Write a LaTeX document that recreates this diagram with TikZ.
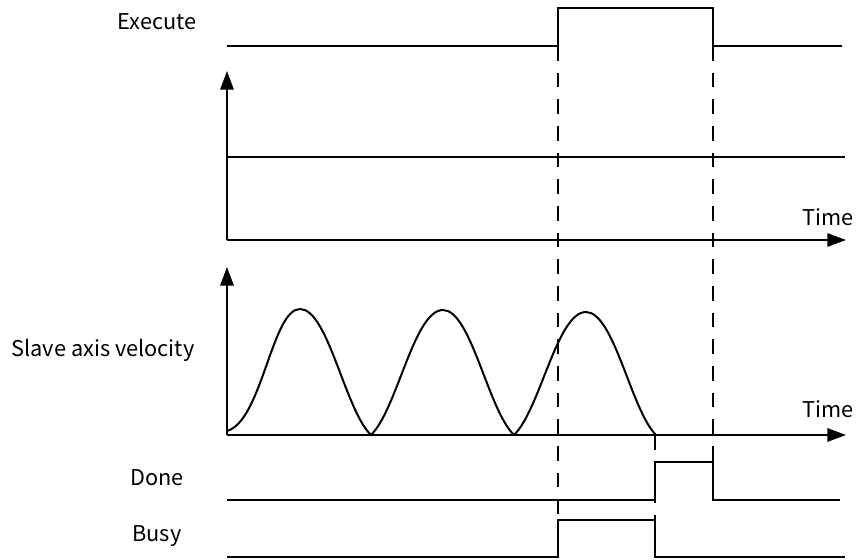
\documentclass[tikz,border=0pt]{standalone}
\usepackage{fontspec}
\setmainfont{Noto Sans CJK SC}
\usetikzlibrary{arrows.meta}
\begin{document}
\begin{tikzpicture}[x=0.75pt,y=-0.75pt,
  sig/.style={line width=1.5pt,line join=miter},
  axisline/.style={line width=1.5pt,-{Triangle[length=14pt,width=10pt]}},
  guide/.style={line width=1pt,dash pattern=on 11pt off 9pt},
  lbl/.style={font=\fontsize{16.3pt}{19pt}\selectfont,inner sep=0pt}]
\useasboundingbox (0,0) rectangle (865,560);
% labels
\node[lbl] (lexec) at (157,22) {Execute};
\node[lbl] (lslave) at (103,350) {Slave axis velocity};
\node[lbl] (ldone) at (157,478) {Done};
\node[lbl] (lbusy) at (157,536) {Busy};
\node[lbl] (ltime1) at (828,217) {Time};
\node[lbl] (ltime2) at (828,409) {Time};
% Execute signal
\draw[sig] (227,46) -- (558,46) -- (558,8) -- (713,8) -- (713,46) -- (842,46);
% master axis chart
\coordinate (o1) at (227,240);
\draw[axisline] (o1) -- (227,71);
\draw[axisline] (o1) -- (846,240);
\draw[sig] (227,157) -- (845,157);
% slave axis chart
\coordinate (o2) at (227,435);
\draw[axisline] (o2) -- (227,267);
\draw[axisline] (o2) -- (846,435);
\draw[sig] (227,431) .. controls (262,421) and (272,309) .. (300,309)
  .. controls (328,309) and (345,410) .. (371,435)
  .. controls (397,410) and (414,310) .. (443,310)
  .. controls (471,310) and (488,410) .. (514,435)
  .. controls (540,410) and (557,312) .. (586,312)
  .. controls (614,312) and (631,410) .. (656,435);
% Done
\draw[sig] (227,500) -- (655,500) -- (655,462) -- (713,462) -- (713,500) -- (840,500);
% Busy
\draw[sig] (227,557) -- (558,557) -- (558,520) -- (655,520) -- (655,557) -- (845,557);
% guides
\draw[guide] (558,46) -- (558,520);
\draw[guide] (713,46) -- (713,462);
\draw[guide] (655,435) -- (655,520);
\end{tikzpicture}
\end{document}
